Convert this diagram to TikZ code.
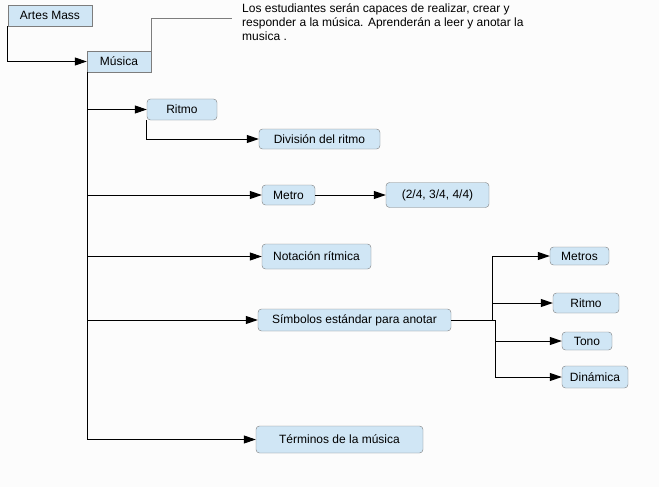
\documentclass[tikz,border=0pt]{standalone}
\usepackage{fontspec}
\setmainfont{Liberation Sans}
\usepackage{tikz}
\usetikzlibrary{arrows.meta, positioning, calc}
\definecolor{boxfill}{RGB}{208,230,245}
\definecolor{boxline}{RGB}{125,125,125}
\definecolor{paper}{RGB}{252,252,252}

\begin{document}
\begin{tikzpicture}[x=1pt, y=-1pt, font=\fontsize{12}{14}\selectfont,
  box/.style={draw=boxline, fill=boxfill, inner sep=0pt},
  rbox/.style={box, rounded corners=3.5pt},
  link/.style={draw=black, line width=1pt, -{Triangle[length=12pt, width=8pt]}}]
\fill[paper] (0,0) rectangle (659,487);

% Root
\node[box, minimum width=84, minimum height=21] (artes) at (50,15.5) {Artes Mass};
\node[box, minimum width=64, minimum height=21] (musica) at (119,61.5) {Música};
\node[anchor=north west, align=left, inner sep=0pt] (nota) at (242,3)
  {Los estudiantes serán capaces de realizar, crear y\\responder a la música. Aprenderán a leer y anotar la\\musica .};

% Branches
\node[rbox, minimum width=70, minimum height=21] (ritmo) at (182,109.5) {Ritmo};
\node[rbox, minimum width=121, minimum height=20] (division) at (319.5,139) {División del ritmo};
\node[rbox, minimum width=53, minimum height=20] (metro) at (288.5,195) {Metro};
\node[rbox, minimum width=103, minimum height=25] (compases) at (437.5,195) {(2/4, 3/4, 4/4)};
\node[rbox, minimum width=109, minimum height=25] (notacion) at (316.5,256.5) {Notación rítmica};
\node[rbox, minimum width=193, minimum height=22] (simbolos) at (354.5,320) {Símbolos estándar para anotar};
\node[rbox, minimum width=167, minimum height=27] (terminos) at (339.5,439.5) {Términos de la música};

% Symbols
\node[rbox, minimum width=59, minimum height=18] (metros) at (579.5,256) {Metros};
\node[rbox, minimum width=66, minimum height=20] (ritmob) at (586,303) {Ritmo};
\node[rbox, minimum width=50, minimum height=18] (tono) at (587,341) {Tono};
\node[rbox, minimum width=66, minimum height=22] (dinamica) at (595,377) {Dinámica};

% Connectors
\draw[boxline, line width=1pt] (musica.north east) |- ([xshift=-10pt, yshift=3pt]nota.west);
\draw[link] (artes.south west) |- (musica.west);
\draw[link] ([xshift=1pt]musica.south west) |- (ritmo.west);
\draw[link] ([xshift=1pt]musica.south west) |- (metro.west);
\draw[link] ([xshift=1pt]musica.south west) |- (notacion.west);
\draw[link] ([xshift=1pt]musica.south west) |- (simbolos.west);
\draw[link] ([xshift=1pt]musica.south west) |- (terminos.west);
\draw[link] (ritmo.south west) |- (division.west);
\draw[link] (metro.east) -- (compases.west);

\coordinate (fork) at ([xshift=41pt]simbolos.east);
\coordinate (forkb) at ([xshift=44pt]simbolos.east);
\draw[line width=1pt] (simbolos.east) -- (forkb);
\draw[link] (fork) |- (metros.west);
\draw[link] (fork) |- (ritmob.west);
\draw[link] (forkb) |- (tono.west);
\draw[link] (forkb) |- (dinamica.west);
\end{tikzpicture}
\end{document}
